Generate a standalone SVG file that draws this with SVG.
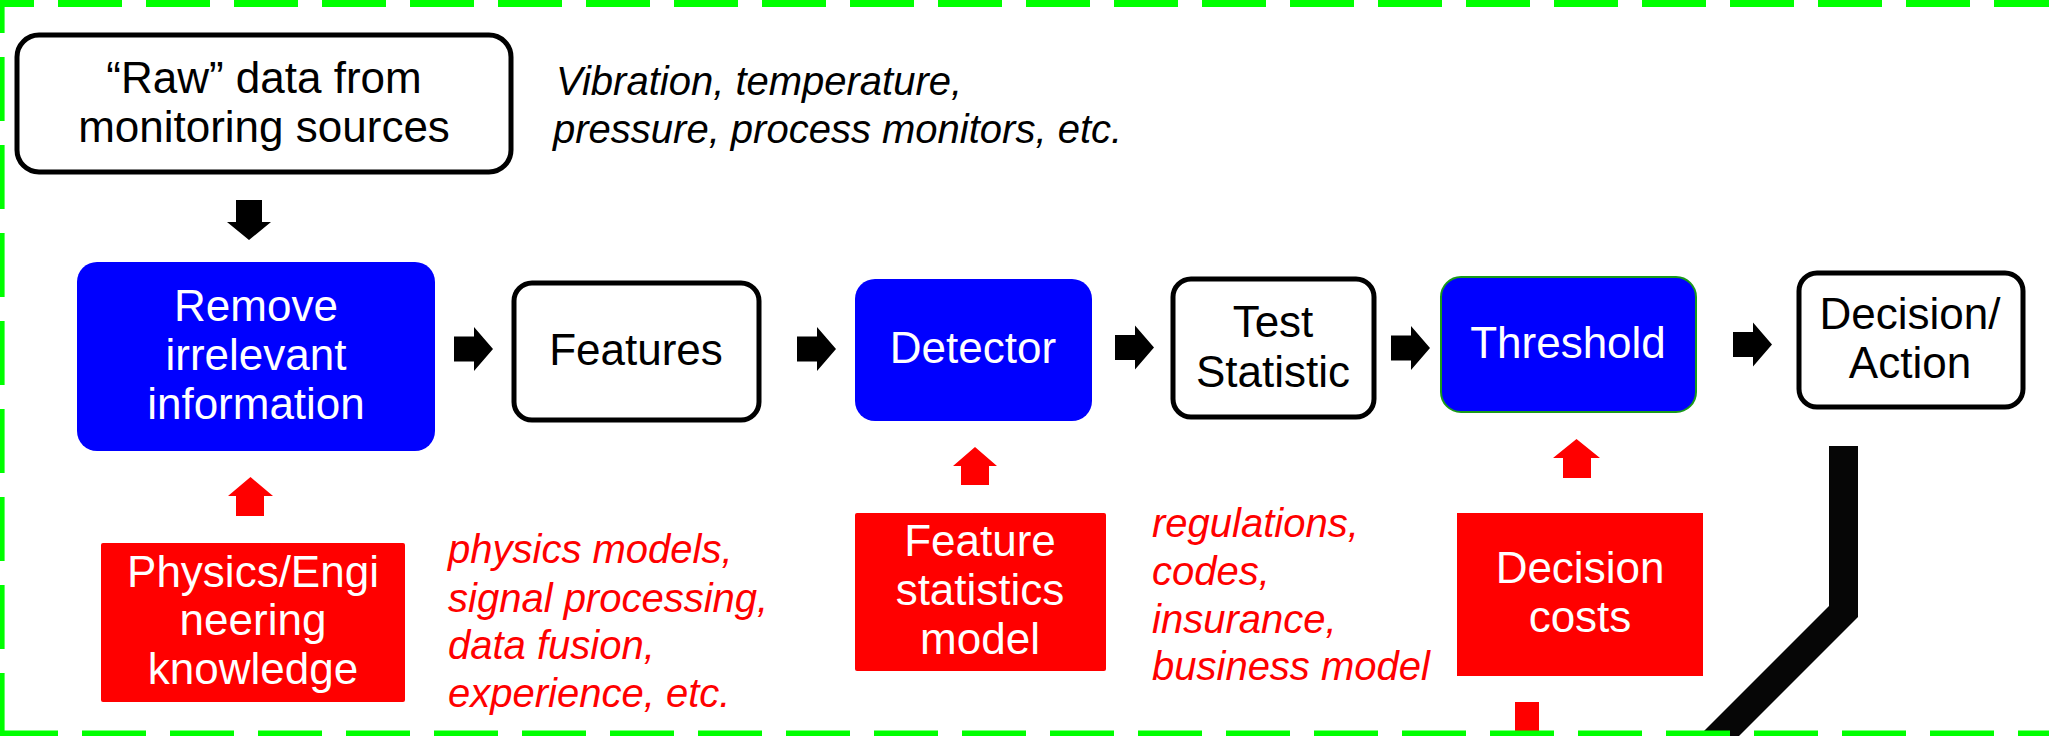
<svg xmlns="http://www.w3.org/2000/svg" xmlns:xlink="http://www.w3.org/1999/xlink" width="2049" height="736" viewBox="0 0 2049 736">
<style>
.t{font-family:"Liberation Sans",Arial,sans-serif;font-size:44px;text-anchor:middle}
.w{fill:#ffffff}
.k{fill:#000000}
.note{font-family:"Liberation Sans",Arial,sans-serif;font-size:40px;font-style:italic}
.wb{fill:#ffffff;stroke:#000000;stroke-width:5}
.blue{fill:#0000ff}
.red{fill:#ff0000}
.border{stroke:#00ff00;fill:none;stroke-dasharray:64 24}
</style>
<defs>
<path id="ra" d="M0,-12.5 H20 V-22 L39,0 L20,22 V12.5 H0 Z" fill="#000000"/>
</defs>
<rect width="2049" height="736" fill="#ffffff"/>

<g id="raw">
<rect class="wb" x="17" y="35" width="494" height="137" rx="22"/>
<text class="t k" x="264" y="93">“Raw” data from</text>
<text class="t k" x="264" y="142">monitoring sources</text>
</g>
<g id="raw-note">
<text class="note k" x="556" y="95">Vibration, temperature,</text>
<text class="note k" x="553" y="143">pressure, process monitors, etc.</text>
</g>

<g id="remove">
<rect class="blue" x="77" y="262" width="358" height="189" rx="20"/>
<text class="t w" x="256" y="321">Remove</text>
<text class="t w" x="256" y="370">irrelevant</text>
<text class="t w" x="256" y="419">information</text>
</g>

<g id="features">
<rect class="wb" x="514" y="283" width="245" height="137" rx="18"/>
<text class="t k" x="636" y="365">Features</text>
</g>

<g id="detector">
<rect class="blue" x="855" y="279" width="237" height="142" rx="20"/>
<text class="t w" x="973" y="363">Detector</text>
</g>

<g id="test-statistic">
<rect class="wb" x="1173" y="279" width="201" height="138" rx="18"/>
<text class="t k" x="1273" y="337">Test</text>
<text class="t k" x="1273" y="387">Statistic</text>
</g>

<g id="threshold">
<rect x="1441" y="277" width="255" height="135" rx="20" fill="#0000ff" stroke="#1a9a1a" stroke-width="2"/>
<text class="t w" x="1568" y="358">Threshold</text>
</g>

<g id="decision-action">
<rect class="wb" x="1799" y="273" width="224" height="134" rx="18"/>
<text class="t k" x="1910" y="329">Decision/</text>
<text class="t k" x="1910" y="378">Action</text>
</g>

<g id="physics">
<rect class="red" x="101" y="543" width="304" height="159" rx="2"/>
<text class="t w" x="253" y="587">Physics/Engi</text>
<text class="t w" x="253" y="635">neering</text>
<text class="t w" x="253" y="684">knowledge</text>
</g>
<g id="physics-note" fill="#ff0000">
<text class="note" x="448" y="563">physics models,</text>
<text class="note" x="448" y="612">signal processing,</text>
<text class="note" x="448" y="659">data fusion,</text>
<text class="note" x="448" y="707">experience, etc.</text>
</g>

<g id="feature-stats">
<rect class="red" x="855" y="513" width="251" height="158" rx="2"/>
<text class="t w" x="980" y="556">Feature</text>
<text class="t w" x="980" y="605">statistics</text>
<text class="t w" x="980" y="654">model</text>
</g>
<g id="regulations-note" fill="#ff0000">
<text class="note" x="1152" y="537">regulations,</text>
<text class="note" x="1152" y="585">codes,</text>
<text class="note" x="1152" y="633">insurance,</text>
<text class="note" x="1152" y="680">business model</text>
</g>

<g id="decision-costs">
<rect class="red" x="1457" y="513" width="246" height="163"/>
<text class="t w" x="1580" y="583">Decision</text>
<text class="t w" x="1580" y="632">costs</text>
</g>

<g id="connectors">
<path d="M236,200 H262 V222 H271 L249,240 L227,222 H236 Z" fill="#000000"/>
<use xlink:href="#ra" x="454" y="349"/>
<use xlink:href="#ra" x="797" y="349"/>
<use xlink:href="#ra" x="1115" y="347.5"/>
<use xlink:href="#ra" x="1391" y="348"/>
<use xlink:href="#ra" x="1733" y="344.5"/>
<path d="M236,516 V496 H228 L250.5,477 L273,496 H264 V516 Z" fill="#ff0000"/>
<path d="M961,485 V466 H953 L975,447 L997,466 H989 V485 Z" fill="#ff0000"/>
<path d="M1563,478 V458 H1553 L1576.5,439 L1600,458 H1591 V478 Z" fill="#ff0000"/>
<rect x="1515" y="702" width="24" height="34" fill="#ff0000"/>
<path d="M1829,446 H1858 V617 L1739,736 H1699 L1829,606 Z" fill="#060606"/>
</g>

<g id="frame">
<line class="border" x1="0" y1="3.5" x2="2049" y2="3.5" stroke-width="7" stroke-dashoffset="30"/>
<line class="border" x1="2.3" y1="0" x2="2.3" y2="736" stroke-width="4.6" stroke-dashoffset="31"/>
<line class="border" x1="0" y1="733.5" x2="2049" y2="733.5" stroke-width="6" stroke-dashoffset="6"/>
</g>
</svg>
